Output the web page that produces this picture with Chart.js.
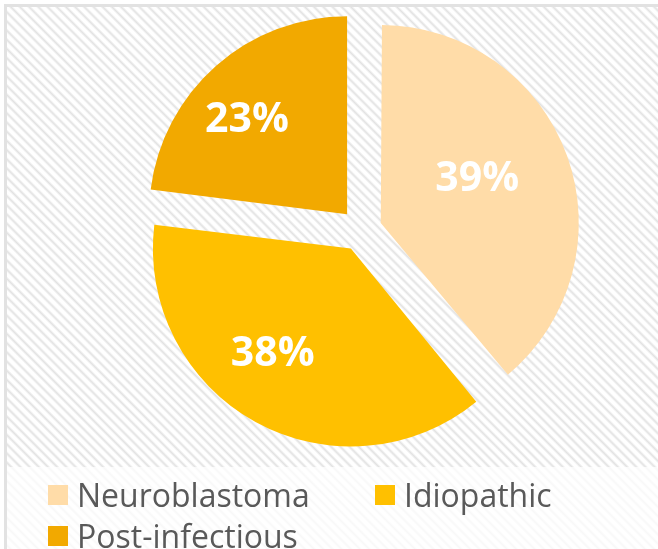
<!DOCTYPE html>
<html>
<head>
<meta charset="utf-8">
<script src="https://cdn.jsdelivr.net/npm/chart.js@4.4.1/dist/chart.umd.min.js"></script>
<style>
  body { margin: 0; width: 658px; height: 549px; overflow: hidden; background: #fff; font-family: "Open Sans", sans-serif; }
  .frame {
    position: absolute; left: 4px; top: 4px; width: 700px; height: 600px;
    border: 3px solid #e2e2e2;
    background: repeating-linear-gradient(45deg, #ffffff 0px, #ffffff 2.5px, #e2e2e2 4.5px, #ffffff 6.5px);
  }
  .legend-bg { position: absolute; left: 7px; top: 467px; width: 660px; height: 90px; background: rgba(255,255,255,0.75); }
  canvas { position: absolute; left: 0; top: 0; }
  #legend { position: absolute; left: 0; top: 0; }
  .item { position: absolute; display: flex; align-items: center; font-size: 32px; color: #595959; line-height: 1; white-space: nowrap; }
  .swatch { width: 20px; height: 20px; margin-right: 9px; }
</style>
</head>
<body>
<div class="frame"></div>
<div class="legend-bg"></div>
<canvas id="pie" width="658" height="549"></canvas>
<div id="legend"></div>
<script>
// slice data
const labels = ['Neuroblastoma', 'Idiopathic', 'Post-infectious'];
const shares = [39, 38, 23];
const colors = ['#FFDCA8', '#FFC000', '#F2A900'];

// Chart.js grows wide exploded slices a little; keep all slices the same radius
const evenRadius = {
    id: 'evenRadius',
    beforeDatasetsDraw(chart) {
        const meta = chart.getDatasetMeta(0);
        const r = meta.controller.outerRadius;
        meta.data.forEach(function(arc) {
            const fix = 1 - Math.sin(Math.min(Math.PI, arc.circumference));
            arc.outerRadius = r - (arc.options.offset / 4) * fix;
        });
    }
};

// draws the white percentage inside every slice
// (the original label boxes sit a bit left of the slice middle)
const sliceLabels = {
    id: 'sliceLabels',
    afterDatasetsDraw(chart) {
        const ctx = chart.ctx;
        const meta = chart.getDatasetMeta(0);
        const r = meta.controller.outerRadius;
        ctx.save();
        ctx.font = 'bold 41px "Open Sans"';
        ctx.fillStyle = '#ffffff';
        ctx.textAlign = 'center';
        ctx.textBaseline = 'middle';
        meta.data.forEach(function(arc, i) {
            const mid = (arc.startAngle + arc.endAngle) / 2;
            const d = arc.options.offset / 4 + r * 0.62;
            ctx.fillText(shares[i] + '%', arc.x + Math.cos(mid) * d - 19, arc.y + Math.sin(mid) * d - 2);
        });
        ctx.restore();
    }
};

new Chart(document.getElementById('pie').getContext('2d'), {
    type: 'pie',
    data: {
        labels: labels,
        datasets: [{
            data: shares,
            backgroundColor: colors,
            borderWidth: 0,
            offset: 84
        }]
    },
    options: {
        responsive: false,
        animation: false,
        radius: 198,
        layout: { padding: { left: 64, right: 0, top: 0, bottom: 89 } },
        plugins: {
            legend: { display: false },
            tooltip: { enabled: false }
        }
    },
    plugins: [evenRadius, sliceLabels]
});

// legend under the pie, two items on the first row
const legendPlaces = [[48, 479], [375, 479], [48, 520]];
const legend = document.getElementById('legend');
labels.forEach(function(name, i) {
    const item = document.createElement('div');
    item.className = 'item';
    item.style.left = legendPlaces[i][0] + 'px';
    item.style.top = legendPlaces[i][1] + 'px';
    item.innerHTML = '<span class="swatch" style="background:' + colors[i] + '"></span>' + name;
    legend.appendChild(item);
});
</script>
</body>
</html>
